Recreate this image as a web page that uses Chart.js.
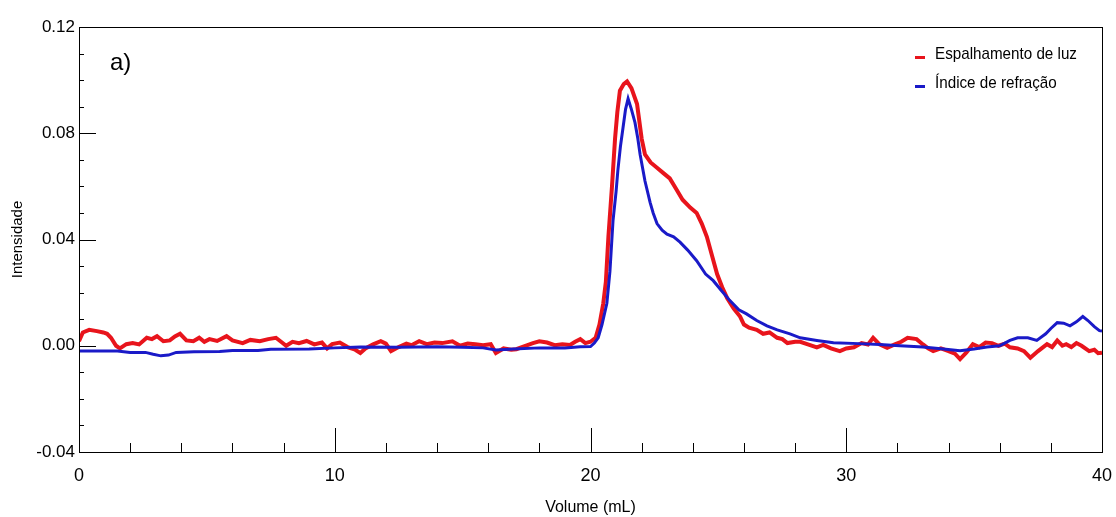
<!DOCTYPE html>
<html>
<head>
<meta charset="utf-8">
<script src="https://cdn.jsdelivr.net/npm/chart.js@4.4.0/dist/chart.umd.min.js"></script>
<style>
  body { margin: 0; background: #fff; }
  #wrap { width: 1116px; height: 517px; position: relative; }
</style>
</head>
<body>
<div id="wrap"><canvas id="grafico"></canvas></div>
<script>
// Espalhamento de luz (vermelho)
const luzVolume = [0, 0.15, 0.4, 0.7, 0.95, 1.1, 1.25, 1.45, 1.6, 1.85, 2.1, 2.35, 2.65, 2.85, 3.05, 3.3, 3.55, 3.75, 3.95, 4.2,
  4.47, 4.7, 4.9, 5.1, 5.4, 5.77, 6.0, 6.4, 6.7, 7.07, 7.4, 7.7, 7.9, 8.1, 8.35, 8.6, 8.9, 9.2, 9.5, 9.7,
  9.9, 10.2, 10.5, 10.8, 11.0, 11.2, 11.5, 11.8, 12.0, 12.2, 12.5, 12.8, 13.0, 13.3, 13.6, 13.9, 14.2, 14.6, 14.9, 15.2,
  15.5, 15.8, 16.1, 16.3, 16.6, 16.9, 17.1, 17.4, 17.75, 18.0, 18.3, 18.6, 18.9, 19.2, 19.4, 19.6, 19.8, 20.0, 20.2, 20.35,
  20.5, 20.6, 20.7, 20.84, 20.96, 21.05, 21.15, 21.3, 21.43, 21.6, 21.82, 22.0, 22.13, 22.35, 22.6, 22.85, 23.1, 23.35, 23.6, 23.9,
  24.15, 24.35, 24.55, 24.75, 24.95, 25.15, 25.34, 25.6, 25.85, 26.0, 26.2, 26.5, 26.75, 27.0, 27.3, 27.5, 27.7, 28.0, 28.2, 28.5,
  28.85, 29.1, 29.4, 29.75, 30.0, 30.3, 30.6, 30.85, 31.05, 31.3, 31.6, 31.9, 32.15, 32.4, 32.75, 33.0, 33.2, 33.4, 33.7, 34.0,
  34.25, 34.45, 34.7, 34.95, 35.2, 35.45, 35.7, 35.95, 36.2, 36.4, 36.7, 36.95, 37.2, 37.5, 37.85, 38.05, 38.25, 38.45, 38.6, 38.8,
  39.0, 39.2, 39.5, 39.7, 39.85, 40.0];
const luzIntensidade = [0.0017, 0.005, 0.006, 0.0055, 0.005, 0.0045, 0.003, 0.0, -0.001, 0.0006, 0.001, 0.0005, 0.003, 0.0025, 0.0036, 0.0017, 0.002, 0.0035, 0.0045, 0.002,
  0.0017, 0.003, 0.0015, 0.0025, 0.0018, 0.0036, 0.002, 0.001, 0.0022, 0.0017, 0.0025, 0.003, 0.0015, 0.0, 0.0015, 0.001, 0.0018, 0.0005, 0.0012, -0.001,
  0.0006, 0.0012, -0.0005, -0.0015, -0.0027, -0.001, 0.0005, 0.0017, 0.0008, -0.002, -0.0005, 0.0008, 0.0002, 0.0017, 0.0006, 0.0012, 0.001, 0.0017, 0.0, 0.0008,
  0.0006, 0.0002, 0.0006, -0.0027, -0.001, -0.0015, -0.0013, -0.0002, 0.001, 0.0017, 0.0012, 0.0002, 0.0006, 0.0003, 0.0015, 0.0025, 0.001, 0.0015, 0.003, 0.008,
  0.016, 0.024, 0.041, 0.060, 0.078, 0.088, 0.096, 0.0985, 0.0995, 0.097, 0.091, 0.078, 0.072, 0.069, 0.067, 0.065, 0.063, 0.059, 0.055, 0.052,
  0.050, 0.046, 0.041, 0.034, 0.027, 0.022, 0.018, 0.014, 0.011, 0.008, 0.0068, 0.006, 0.0045, 0.005, 0.003, 0.0025, 0.001, 0.0015, 0.0015, 0.0005,
  -0.0006, 0.0003, -0.001, -0.002, -0.001, -0.0006, 0.001, 0.0005, 0.003, 0.0005, -0.0008, 0.0005, 0.0015, 0.003, 0.0025, 0.0005, -0.001, -0.002, -0.001, -0.002,
  -0.003, -0.005, -0.0025, 0.0006, -0.0005, 0.0012, 0.001, 0.0, 0.0008, -0.0006, -0.001, -0.002, -0.0045, -0.002, 0.0006, -0.0005, 0.002, 0.0, 0.0006, -0.0005,
  0.001, 0.0, -0.002, -0.0015, -0.0028, -0.0026];

// Índice de refração (azul)
const riVolume = [0, 1.5, 2.0, 2.6, 2.9, 3.2, 3.5, 3.8, 4.5, 5.5, 6.0, 7.0, 7.5, 9.0, 10.0, 11.0, 12.5, 14.0, 15.0, 15.8,
  16.3, 17.0, 18.0, 19.0, 19.6, 20.0, 20.15, 20.3, 20.45, 20.64, 20.76, 20.88, 21.0, 21.07, 21.17, 21.27, 21.37, 21.47, 21.6, 21.74,
  21.85, 21.94, 22.13, 22.33, 22.45, 22.6, 22.8, 22.99, 23.25, 23.5, 23.8, 24.15, 24.5, 24.8, 25.1, 25.45, 25.8, 26.1, 26.5, 26.9,
  27.3, 27.8, 28.2, 28.85, 29.5, 30.5, 31.3, 32.1, 33.0, 33.8, 34.45, 35.0, 35.5, 36.0, 36.4, 36.7, 37.1, 37.45, 37.8, 38.0,
  38.25, 38.5, 38.75, 39.0, 39.25, 39.45, 39.7, 39.9, 40.0];
const riIntensidade = [-0.002, -0.002, -0.0025, -0.0025, -0.0032, -0.0038, -0.0035, -0.0025, -0.0023, -0.0022, -0.0018, -0.0018, -0.0013, -0.0012, -0.0008, -0.0005, -0.0006, -0.0004, -0.0006, -0.0008,
  -0.0016, -0.0012, -0.0008, -0.0008, -0.0004, -0.0003, 0.001, 0.003, 0.008, 0.016, 0.028, 0.047, 0.058, 0.066, 0.075, 0.082, 0.089, 0.093, 0.089, 0.084,
  0.078, 0.072, 0.062, 0.054, 0.050, 0.046, 0.0435, 0.042, 0.041, 0.039, 0.036, 0.032, 0.027, 0.0245, 0.021, 0.017, 0.0135, 0.012, 0.0095, 0.0075,
  0.006, 0.0045, 0.003, 0.002, 0.0011, 0.0008, 0.0005, 0.0, -0.0005, -0.0012, -0.0019, -0.0012, -0.0005, 0.0, 0.002, 0.003, 0.003, 0.002, 0.0045, 0.0065,
  0.0087, 0.0085, 0.0075, 0.009, 0.011, 0.0095, 0.0072, 0.0057, 0.0055];

const xTicks = ['0', '10', '20', '30', '40'];
const yTicks = ['-0.04', '0.00', '0.04', '0.08', '0.12'];

const pontos = (xs, ys) => xs.map((x, i) => ({ x: x, y: ys[i] }));

// Marcas para dentro do gráfico + borda
const marcasPlugin = {
  id: 'marcas',
  afterDraw(chart) {
    const ctx = chart.ctx;
    const a = chart.chartArea;
    const sx = chart.scales.x, sy = chart.scales.y;
    ctx.save();
    ctx.strokeStyle = '#000';
    ctx.lineWidth = 1;
    ctx.beginPath();
    sx.ticks.forEach(t => {
      const px = Math.round(sx.getPixelForValue(t.value)) + 0.5;
      const len = Math.round(t.value) % 10 === 0 ? 24 : 9;
      ctx.moveTo(px, a.bottom);
      ctx.lineTo(px, a.bottom - len);
    });
    sy.ticks.forEach(t => {
      const py = Math.round(sy.getPixelForValue(t.value)) + 0.5;
      const len = Math.round(t.value * 100) % 4 === 0 ? 17 : 5;
      ctx.moveTo(a.left, py);
      ctx.lineTo(a.left + len, py);
    });
    ctx.stroke();
    ctx.strokeRect(Math.round(a.left) + 0.5, Math.round(a.top) + 0.5, Math.round(a.right - a.left), Math.round(a.bottom - a.top));

    // legenda
    ctx.font = '16px "Liberation Sans", Arial';
    ctx.textBaseline = 'middle';
    chart.data.datasets.forEach((ds, i) => {
      const y = 54 + i * 29;
      ctx.fillStyle = ds.borderColor;
      ctx.fillRect(915, y + 2, 10, 3);
      ctx.fillStyle = '#000';
      ctx.save();
      ctx.translate(935, y);
      ctx.scale(0.95, 1.05);
      ctx.fillText(ds.label, 0, 0);
      ctx.restore();
    });

    ctx.fillStyle = '#000';
    ctx.font = '24px "Liberation Sans", Arial';
    ctx.fillText('a)', 110, 63);
    ctx.restore();
  }
};

new Chart(document.getElementById('grafico'), {
  type: 'line',
  data: {
    datasets: [{
      label: 'Espalhamento de luz',
      data: pontos(luzVolume, luzIntensidade),
      borderColor: '#e8141c',
      borderWidth: 4,
      pointRadius: 0,
      tension: 0,
      order: 1
    }, {
      label: 'Índice de refração',
      data: pontos(riVolume, riIntensidade),
      borderColor: '#1a1ac8',
      borderWidth: 3,
      pointRadius: 0,
      tension: 0,
      order: 0
    }]
  },
  options: {
    responsive: true,
    maintainAspectRatio: false,
    animation: false,
    layout: { padding: { top: 27, right: 14, left: 0, bottom: 0 } },
    plugins: {
      legend: { display: false },
      tooltip: { enabled: false }
    },
    scales: {
      x: {
        type: 'linear',
        min: 0,
        max: 40,
        grid: { display: false, drawTicks: false },
        border: { display: false },
        ticks: {
          stepSize: 2,
          autoSkip: false,
          maxRotation: 0,
          padding: 13,
          color: '#000',
          font: { family: '"Liberation Sans"', size: 18 },
          callback: v => (Math.round(v) % 10 === 0 ? xTicks[Math.round(v) / 10] : '')
        },
        title: {
          display: true,
          text: 'Volume (mL)',
          color: '#000',
          font: { family: '"Liberation Sans"', size: 16 },
          padding: { top: 0, bottom: 0 }
        },
        afterFit: s => { s.height = 65; s.paddingLeft = 0; s.paddingRight = 0; }
      },
      y: {
        min: -0.04,
        max: 0.12,
        grid: { display: false, drawTicks: false },
        border: { display: false },
        ticks: {
          stepSize: 0.01,
          autoSkip: false,
          padding: 4,
          color: '#000',
          font: { family: '"Liberation Sans"', size: 17 },
          callback: v => {
            const k = Math.round(v * 100);
            return k % 4 === 0 ? yTicks[(k + 4) / 4] : '';
          }
        },
        title: {
          display: true,
          text: 'Intensidade',
          color: '#000',
          font: { family: '"Liberation Sans"', size: 15 },
          padding: { top: 9, bottom: 0 }
        },
        afterFit: s => { s.width = 79; s.paddingTop = 0; s.paddingBottom = 0; }
      }
    }
  },
  plugins: [marcasPlugin]
});
</script>
</body>
</html>
